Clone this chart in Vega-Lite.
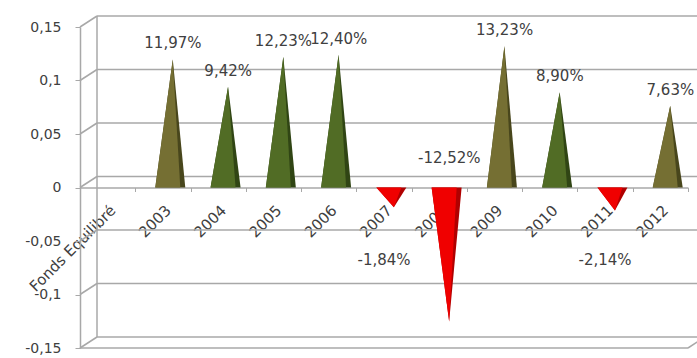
{
  "$schema": "https://vega.github.io/schema/vega-lite/v6.json",
  "width": 608,
  "height": 321,
  "autosize": "none",
  "padding": {"left": 80, "top": 27, "right": 9, "bottom": 10},
  "background": "white",
  "config": {
    "font": "DejaVu Sans",
    "view": {"stroke": null},
    "locale": {"number": {"decimal": ",", "thousands": " ", "grouping": [3], "currency": ["", " €"], "minus": "-", "percent": "%"}}
  },
  "datasets": {
    "rendements": [
      {"annee": "2003", "valeur": 0.1197},
      {"annee": "2004", "valeur": 0.0942},
      {"annee": "2005", "valeur": 0.1223},
      {"annee": "2006", "valeur": 0.1240},
      {"annee": "2007", "valeur": -0.0184},
      {"annee": "2008", "valeur": -0.1252},
      {"annee": "2009", "valeur": 0.1323},
      {"annee": "2010", "valeur": 0.0890},
      {"annee": "2011", "valeur": -0.0214},
      {"annee": "2012", "valeur": 0.0763}
    ],
    "grille": [
      {"niveau": -0.15}, {"niveau": -0.1}, {"niveau": -0.05}, {"niveau": 0},
      {"niveau": 0.05}, {"niveau": 0.1}, {"niveau": 0.15}
    ]
  },
  "layer": [
    {
      "data": {"name": "grille"},
      "mark": {"type": "rule", "color": "#a8a8a8", "strokeWidth": 1.5, "xOffset": 17, "x2Offset": 50, "yOffset": -11},
      "encoding": {
        "x": {"datum": "Fonds Equilibré", "type": "nominal", "bandPosition": 0,
              "scale": {"type": "band", "domain": ["Fonds Equilibré", "2003", "2004", "2005", "2006", "2007", "2008", "2009", "2010", "2011", "2012"], "paddingInner": 0, "paddingOuter": 0},
              "axis": {"orient": "bottom", "offset": -160.5, "tickBand": "extent", "labelAngle": -45, "labelFontSize": 15, "labelColor": "#404040", "domainColor": "#a8a8a8", "tickColor": "#a8a8a8", "domainWidth": 1.5, "tickSize": 4, "labelPadding": 11, "title": null, "grid": false}},
        "x2": {"datum": "2012"},
        "y": {"field": "niveau", "type": "quantitative",
              "scale": {"domain": [-0.15, 0.15], "nice": false, "zero": false},
              "axis": {"orient": "left", "values": [-0.15, -0.1, -0.05, 0, 0.05, 0.1, 0.15], "format": ".2~f", "labelFontSize": 14, "labelColor": "#404040", "domainColor": "#a8a8a8", "tickColor": "#a8a8a8", "domainWidth": 1.5, "tickSize": 5, "labelPadding": 14, "title": null, "grid": false}}
      }
    },
    {
      "data": {"name": "grille"},
      "mark": {"type": "rule", "color": "#a8a8a8", "strokeWidth": 1.5, "x2Offset": 17, "y2Offset": -11},
      "encoding": {
        "x": {"datum": "Fonds Equilibré", "type": "nominal", "bandPosition": 0},
        "x2": {"datum": "Fonds Equilibré", "bandPosition": 0},
        "y": {"field": "niveau", "type": "quantitative"},
        "y2": {"field": "niveau"}
      }
    },
    {
      "data": {"name": "grille"},
      "transform": [{"filter": "datum.niveau == 0"}],
      "mark": {"type": "rule", "color": "#a8a8a8", "strokeWidth": 1.5, "xOffset": 17, "yOffset": -11, "y2Offset": -11},
      "encoding": {
        "x": {"datum": "Fonds Equilibré", "type": "nominal", "bandPosition": 0},
        "y": {"datum": -0.15, "type": "quantitative"},
        "y2": {"datum": 0.15}
      }
    },
    {
      "data": {"name": "grille"},
      "transform": [{"filter": "datum.niveau == -0.15"}],
      "mark": {"type": "rule", "color": "#a8a8a8", "strokeWidth": 1.5},
      "encoding": {
        "x": {"datum": "Fonds Equilibré", "type": "nominal", "bandPosition": 0},
        "x2": {"datum": "2012", "bandPosition": 1},
        "y": {"field": "niveau", "type": "quantitative"}
      }
    },
    {
      "data": {"name": "grille"},
      "transform": [{"filter": "datum.niveau == -0.15"}],
      "mark": {"type": "rule", "color": "#a8a8a8", "strokeWidth": 1.5, "x2Offset": 17, "y2Offset": -11},
      "encoding": {
        "x": {"datum": "2012", "type": "nominal", "bandPosition": 1},
        "x2": {"datum": "2012", "bandPosition": 1},
        "y": {"field": "niveau", "type": "quantitative"},
        "y2": {"field": "niveau"}
      }
    },
    {
      "data": {"name": "rendements"},
      "transform": [
        {"fold": ["valeur"], "as": ["part", "v"]},
        {"impute": "v", "key": "part", "keyvals": ["a", "valeur", "w", "z"], "groupby": ["annee"], "value": 0},
        {"filter": {"field": "annee", "oneOf": ["2003", "2009", "2012"]}}
      ],
      "layer": [
        {
          "transform": [{"filter": "datum.part != 'w'"}],
          "mark": {"type": "area", "color": "#48461c", "opacity": 1},
          "encoding": {
            "x": {"field": "annee", "type": "nominal"},
            "xOffset": {"field": "part", "type": "nominal",
                        "scale": {"type": "point", "domain": ["a", "p1", "p2", "p3", "p4", "p5", "p6", "valeur", "p7", "p8", "w", "p9", "z"], "range": [20, 50], "padding": 0}},
            "y": {"field": "v", "type": "quantitative", "stack": null},
            "detail": {"field": "annee", "type": "nominal"}
          }
        },
        {
          "transform": [{"filter": "datum.part != 'z'"}],
          "mark": {"type": "area", "color": "#756f33", "opacity": 1},
          "encoding": {
            "x": {"field": "annee", "type": "nominal"},
            "xOffset": {"field": "part", "type": "nominal"},
            "y": {"field": "v", "type": "quantitative", "stack": null},
            "detail": {"field": "annee", "type": "nominal"}
          }
        }
      ]
    },
    {
      "data": {"name": "rendements"},
      "transform": [
        {"fold": ["valeur"], "as": ["part", "v"]},
        {"impute": "v", "key": "part", "keyvals": ["a", "valeur", "w", "z"], "groupby": ["annee"], "value": 0},
        {"filter": {"field": "annee", "oneOf": ["2004", "2005", "2006", "2010"]}}
      ],
      "layer": [
        {
          "transform": [{"filter": "datum.part != 'w'"}],
          "mark": {"type": "area", "color": "#304514", "opacity": 1},
          "encoding": {
            "x": {"field": "annee", "type": "nominal"},
            "xOffset": {"field": "part", "type": "nominal"},
            "y": {"field": "v", "type": "quantitative", "stack": null},
            "detail": {"field": "annee", "type": "nominal"}
          }
        },
        {
          "transform": [{"filter": "datum.part != 'z'"}],
          "mark": {"type": "area", "color": "#516c25", "opacity": 1},
          "encoding": {
            "x": {"field": "annee", "type": "nominal"},
            "xOffset": {"field": "part", "type": "nominal"},
            "y": {"field": "v", "type": "quantitative", "stack": null},
            "detail": {"field": "annee", "type": "nominal"}
          }
        }
      ]
    },
    {
      "data": {"name": "rendements"},
      "transform": [
        {"fold": ["valeur"], "as": ["part", "v"]},
        {"impute": "v", "key": "part", "keyvals": ["a", "valeur", "w", "z"], "groupby": ["annee"], "value": 0},
        {"filter": {"field": "annee", "oneOf": ["2007", "2008", "2011"]}}
      ],
      "layer": [
        {
          "transform": [{"filter": "datum.part != 'w'"}],
          "mark": {"type": "area", "color": "#b00000", "opacity": 1},
          "encoding": {
            "x": {"field": "annee", "type": "nominal"},
            "xOffset": {"field": "part", "type": "nominal"},
            "y": {"field": "v", "type": "quantitative", "stack": null},
            "detail": {"field": "annee", "type": "nominal"}
          }
        },
        {
          "transform": [{"filter": "datum.part != 'z'"}],
          "mark": {"type": "area", "color": "#f00000", "opacity": 1},
          "encoding": {
            "x": {"field": "annee", "type": "nominal"},
            "xOffset": {"field": "part", "type": "nominal"},
            "y": {"field": "v", "type": "quantitative", "stack": null},
            "detail": {"field": "annee", "type": "nominal"}
          }
        }
      ]
    },
    {
      "data": {"name": "rendements"},
      "transform": [{"filter": "datum.valeur >= 0"}],
      "mark": {"type": "text", "fontSize": 15, "color": "#404040", "baseline": "middle", "xOffset": 10, "yOffset": -16},
      "encoding": {
        "x": {"field": "annee", "type": "nominal"},
        "y": {"field": "valeur", "type": "quantitative"},
        "text": {"field": "valeur", "type": "quantitative", "format": ".2%"}
      }
    },
    {
      "data": {"name": "rendements"},
      "transform": [{"filter": "datum.valeur < 0 && datum.valeur > -0.05"}],
      "mark": {"type": "text", "fontSize": 15, "color": "#404040", "baseline": "middle", "yOffset": 72},
      "encoding": {
        "x": {"field": "annee", "type": "nominal"},
        "y": {"datum": 0, "type": "quantitative"},
        "text": {"field": "valeur", "type": "quantitative", "format": ".2%"}
      }
    },
    {
      "data": {"name": "rendements"},
      "transform": [{"filter": "datum.valeur <= -0.05"}],
      "mark": {"type": "text", "fontSize": 15, "color": "#404040", "baseline": "middle", "xOffset": 10, "yOffset": -30},
      "encoding": {
        "x": {"field": "annee", "type": "nominal"},
        "y": {"datum": 0, "type": "quantitative"},
        "text": {"field": "valeur", "type": "quantitative", "format": ".2%"}
      }
    }
  ]
}
